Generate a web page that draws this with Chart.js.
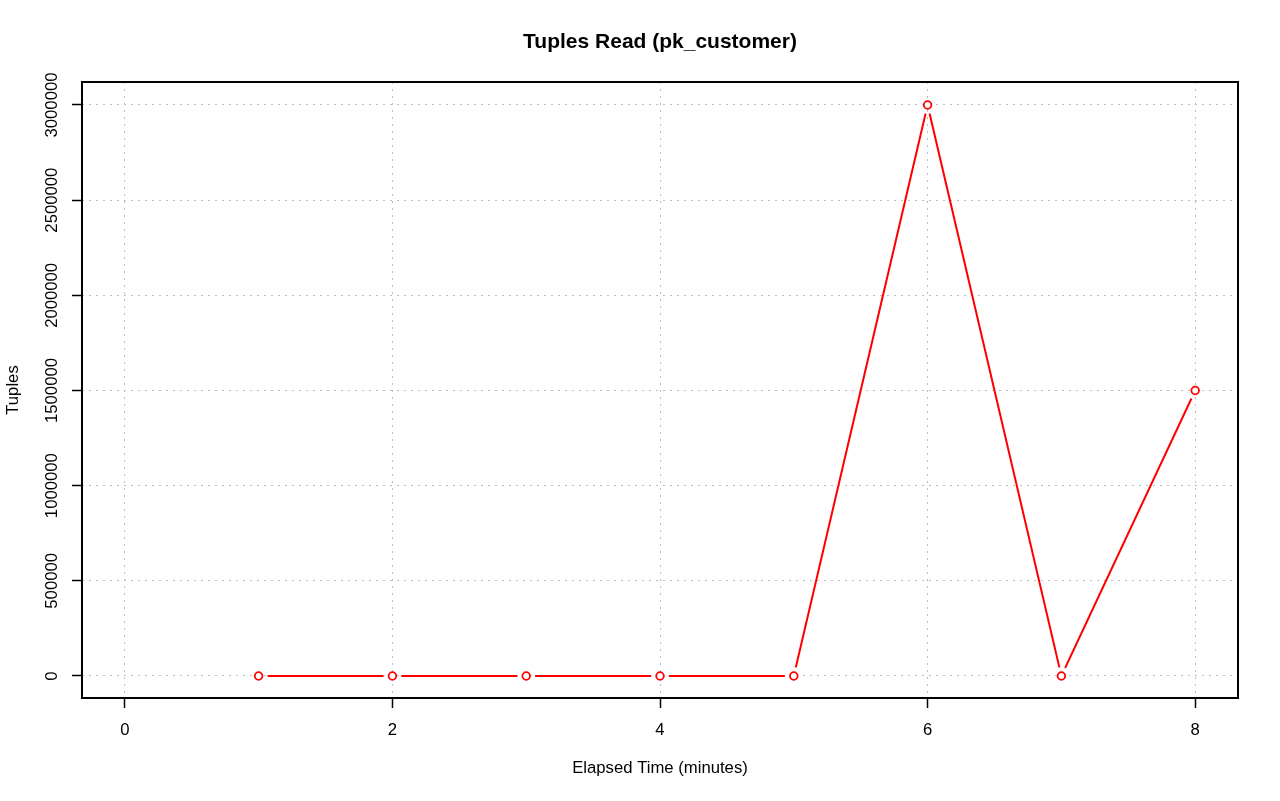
<!DOCTYPE html>
<html>
<head>
<meta charset="utf-8">
<title>Tuples Read (pk_customer)</title>
<script src="https://cdn.jsdelivr.net/npm/chart.js@4/dist/chart.umd.min.js"></script>
<style>
    html, body { margin: 0; padding: 0; background: #ffffff; }
    #chart_wrap { width: 1280px; height: 801px; }
</style>
</head>
<body>
<div id="chart_wrap">
    <canvas id="canvas_tuples" width="1280" height="801"></canvas>
</div>
<script>
// valores
const elapsedMinutes = [1, 2, 3, 4, 5, 6, 7, 8];
const tuplesRead = [0, 0, 0, 0, 0, 3000000, 0, 1500000];
const xTickValues = [0, 2, 4, 6, 8];
const yTickValues = [0, 500000, 1000000, 1500000, 2000000, 2500000, 3000000];

const chartTitle = 'Tuples Read (pk_customer)';
const xTitle = 'Elapsed Time (minutes)';
const yTitle = 'Tuples';

const FONT = "'Liberation Sans', Arial, Helvetica, sans-serif";
const FONT_SIZE = 16.7;
const RED = '#ff0000';
const GRID = '#bdbdbd';

const points = elapsedMinutes.map((m, i) => ({ x: m, y: tuplesRead[i] }));

// deixa um espaco em volta de cada ponto, como no type="b" do R
const gapPlugin = {
    id: 'gapPlugin',
    beforeDatasetDraw(chart, args) {
        if (args.index !== 0) return;
        const ctx = chart.ctx;
        const meta = chart.getDatasetMeta(0);
        ctx.save();
        ctx.beginPath();
        ctx.rect(0, 0, chart.width, chart.height);
        meta.data.forEach(p => {
            ctx.moveTo(p.x + 9, p.y);
            ctx.arc(p.x, p.y, 9, 0, Math.PI * 2);
        });
        ctx.clip('evenodd');
    },
    afterDatasetDraw(chart, args) {
        if (args.index !== 0) return;
        chart.ctx.restore();
    }
};

const framePlugin = {
    id: 'framePlugin',
    afterDraw(chart) {
        const ctx = chart.ctx;
        const area = chart.chartArea;
        const yScale = chart.scales.y;

        ctx.save();
        ctx.strokeStyle = '#000000';
        ctx.lineWidth = 2;
        ctx.strokeRect(area.left, area.top, area.right - area.left, area.bottom - area.top);

        ctx.fillStyle = '#000000';
        ctx.textAlign = 'center';
        ctx.textBaseline = 'middle';

        // rotulos do eixo y (verticais)
        ctx.font = `${FONT_SIZE}px ${FONT}`;
        yScale.ticks.forEach(t => {
            const py = yScale.getPixelForValue(t.value);
            ctx.save();
            ctx.translate(52, py);
            ctx.rotate(-Math.PI / 2);
            ctx.fillText(String(t.value), 0, 0);
            ctx.restore();
        });

        // titulos
        const cx = (area.left + area.right) / 2;
        const cy = (area.top + area.bottom) / 2;
        ctx.fillText(xTitle, cx, 768);

        ctx.save();
        ctx.translate(13, cy);
        ctx.rotate(-Math.PI / 2);
        ctx.fillText(yTitle, 0, 0);
        ctx.restore();

        ctx.font = `bold 21px ${FONT}`;
        ctx.fillText(chartTitle, cx, 42);
        ctx.restore();
    }
};

const ctx = document.getElementById('canvas_tuples').getContext('2d');
new Chart(ctx, {
    type: 'line',
    data: {
        datasets: [{
            label: 'line',
            data: points,
            borderColor: RED,
            borderWidth: 2,
            pointRadius: 0,
            fill: false,
            tension: 0
        }, {
            label: 'points',
            data: points,
            showLine: false,
            pointRadius: 3.8,
            pointBorderWidth: 1.8,
            pointBorderColor: RED,
            pointBackgroundColor: '#ffffff'
        }]
    },
    options: {
        responsive: false,
        devicePixelRatio: 1,
        animation: false,
        events: [],
        layout: {
            padding: { top: 82, right: 42, left: 0, bottom: 0 }
        },
        plugins: {
            legend: { display: false },
            title: { display: false },
            tooltip: { enabled: false }
        },
        scales: {
            x: {
                type: 'linear',
                min: -0.32,
                max: 8.32,
                afterBuildTicks: scale => {
                    scale.ticks = xTickValues.map(v => ({ value: v }));
                },
                afterFit: scale => { scale.height = 103; },
                ticks: {
                    color: '#000000',
                    font: { family: FONT, size: FONT_SIZE },
                    padding: 12,
                    maxRotation: 0,
                    callback: v => String(v)
                },
                grid: {
                    color: GRID,
                    lineWidth: 1,
                    drawTicks: true,
                    tickLength: 10,
                    tickColor: '#000000',
                    tickWidth: 1.5,
                    tickBorderDash: []
                },
                border: { display: false, dash: [2, 5] }
            },
            y: {
                type: 'linear',
                min: -115600,
                max: 3120800,
                afterBuildTicks: scale => {
                    scale.ticks = yTickValues.map(v => ({ value: v }));
                },
                afterFit: scale => { scale.width = 82; },
                ticks: {
                    display: false
                },
                grid: {
                    color: GRID,
                    lineWidth: 1,
                    drawTicks: true,
                    tickLength: 10,
                    tickColor: '#000000',
                    tickWidth: 1.5,
                    tickBorderDash: []
                },
                border: { display: false, dash: [2, 5] }
            }
        }
    },
    plugins: [gapPlugin, framePlugin]
});
</script>
</body>
</html>
